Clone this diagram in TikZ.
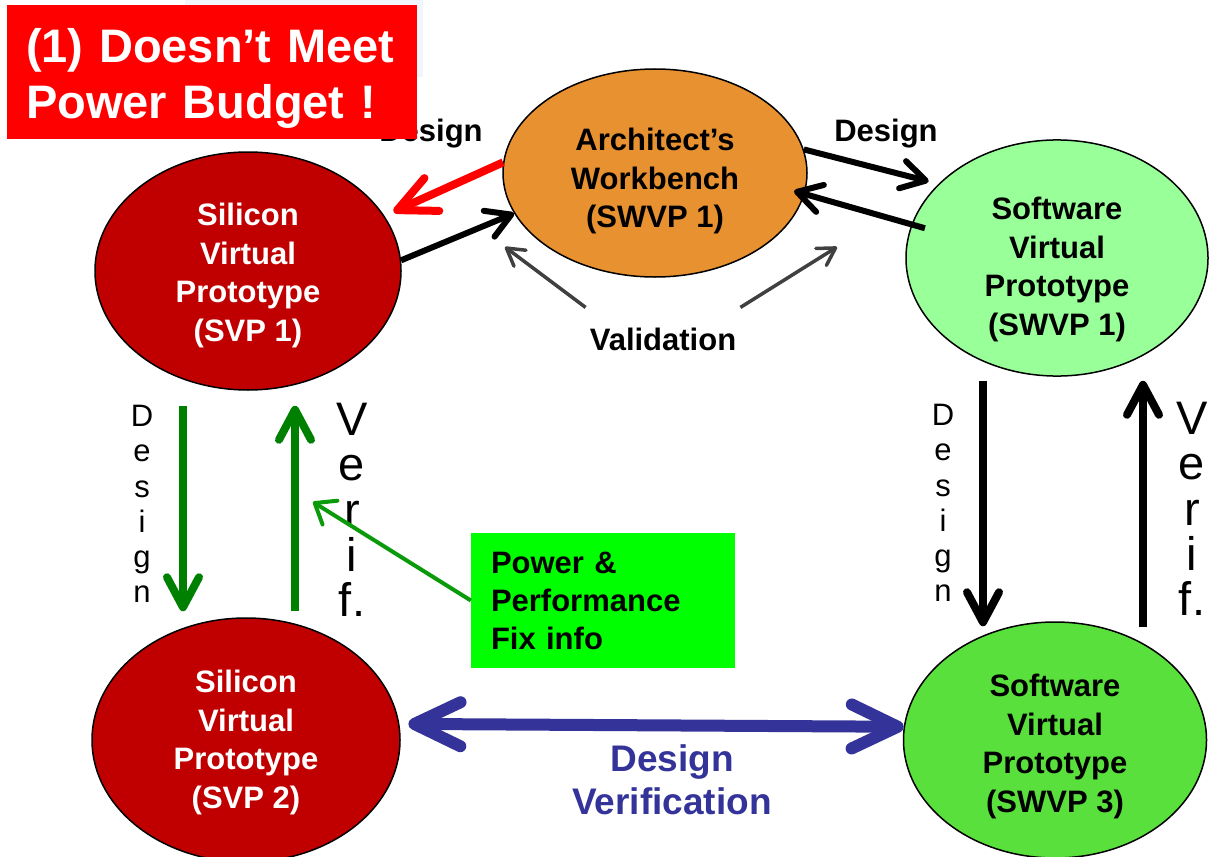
\documentclass[tikz,border=0pt]{standalone}
\usepackage{fontspec}
\setmainfont{Liberation Sans}
\usetikzlibrary{shapes.geometric,arrows.meta}
\definecolor{archorange}{HTML}{E89131}
\definecolor{siliconred}{HTML}{C00000}
\definecolor{softgreen}{HTML}{99FF99}
\definecolor{softgreenB}{HTML}{5AE03C}
\definecolor{fixgreen}{HTML}{00FF00}
\definecolor{budgetred}{HTML}{FF0000}
\definecolor{arrowgreen}{HTML}{008000}
\definecolor{pointgreen}{HTML}{0A9A0A}
\definecolor{dvblue}{HTML}{333399}
\definecolor{valgray}{HTML}{404040}
\definecolor{paleblue}{HTML}{F2F6FA}
% first line strut, pushes a text block down
\newcommand{\lowerby}[1]{\rule{0pt}{#1}}
\begin{document}
\begin{tikzpicture}[x=1pt,y=-1pt,
    proto/.style={ellipse,draw=black,line width=1.5pt,inner sep=0pt,align=center,
        font=\fontsize{31}{38.5}\selectfont\bfseries},
    tag/.style={font=\fontsize{31}{38}\selectfont\bfseries},
    updown/.style={line width=8pt,-{Straight Barb[round,length=30pt,width=32pt]}},
    toparrow/.style={line width=6pt,-{Straight Barb[round,length=24pt,width=28pt]}},
    redarrow/.style={draw=budgetred,line width=8pt,-{Straight Barb[round,length=38pt,width=36pt]}},
    dvarrow/.style={draw=dvblue,line width=12pt,{Straight Barb[round,length=46pt,width=44pt]}-{Straight Barb[round,length=46pt,width=44pt]}},
    valarrow/.style={draw=valgray,line width=3.5pt,-{Straight Barb[round,length=17pt,width=20pt]}},
    fixarrow/.style={draw=pointgreen,line width=4pt,-{Straight Barb[round,length=18pt,width=28pt]}}]
    \useasboundingbox (0,0) rectangle (1209,856);
    \clip (0,0) rectangle (1209,856);
    \fill[paleblue] (185,0) rectangle (423,77);
    % prototypes
    \node[proto,fill=archorange,minimum width=304pt,minimum height=208pt] (arch) at (655,173) {\lowerby{39pt}Architect’s\\Workbench\\(SWVP 1)};
    \node[proto,fill=siliconred,text=white,minimum width=306pt,minimum height=238pt] (svpA) at (248,271) {\lowerby{31pt}Silicon\\Virtual\\Prototype\\(SVP 1)};
    \node[proto,fill=siliconred,text=white,minimum width=308pt,minimum height=244pt] (svpB) at (246,740) {\lowerby{27pt}Silicon\\Virtual\\Prototype\\(SVP 2)};
    \node[proto,fill=softgreen,minimum width=302pt,minimum height=228pt] (swA) at (1057,258) {\lowerby{45pt}Software\\Virtual\\Prototype\\(SWVP 1)};
    \node[proto,fill=softgreenB,minimum width=303pt,minimum height=236pt] (swB) at (1055,740) {\lowerby{35pt}Software\\Virtual\\Prototype\\(SWVP 3)};
    % labels
    \node[tag] (designL) at (431,134) {Design};
    \node[tag] (designR) at (886,134) {Design};
    \node[tag,inner xsep=4pt,inner ysep=20pt] (valid) at (663,339) {Validation};
    \node[fill=fixgreen,minimum width=264pt,minimum height=135pt,text width=224pt,inner xsep=20pt,align=left,
        font=\fontsize{31}{38}\selectfont\bfseries] (fix) at (603,600.5) {Power \&\\Performance\\Fix info};
    \node[text=dvblue,align=center,font=\fontsize{37}{43}\selectfont\bfseries] (dv) at (672,780) {Design\\Verification};
    \node[align=center,inner sep=0pt,font=\fontsize{31}{35.2}\selectfont] (dsgL) at (142,504) {D\\e\\s\\i\\g\\n};
    \node[align=center,inner sep=0pt,font=\fontsize{47}{45.2}\selectfont] (verL) at (352,510) {V\\e\\r\\i\\f.};
    \node[align=center,inner sep=0pt,font=\fontsize{31}{35.2}\selectfont] (dsgR) at (943,503) {D\\e\\s\\i\\g\\n};
    \node[align=center,inner sep=0pt,font=\fontsize{47}{45.2}\selectfont] (verR) at (1192,509) {V\\e\\r\\i\\f.};
    % arrows
    \draw[redarrow,shorten >=10pt] (arch.176) -- (svpA.22);
    \draw[toparrow] (svpA.4) -- (arch.196);
    \draw[toparrow,shorten >=10pt] (arch.9) -- (swA.148);
    \draw[toparrow,shorten <=-14pt,shorten >=-11pt] (swA.167) -- (arch.352);
    \coordinate (valL) at (505,247);
    \coordinate (valR) at (837,247);
    \draw[valarrow] (valid.north west) -- (valL);
    \draw[valarrow] (valid.north east) -- (valR);
    \draw[updown,draw=arrowgreen,shorten <=15pt,shorten >=6pt] ([xshift=-65pt]svpA.south) -- ([xshift=-63pt]svpB.north);
    \draw[updown,draw=arrowgreen,shorten <=6pt,shorten >=15pt] ([xshift=49pt]svpB.north) -- ([xshift=47pt]svpA.south);
    \draw[updown,shorten <=4pt,shorten >=-5pt] ([xshift=-74pt]swA.south) -- ([xshift=-72pt]swB.north);
    \draw[updown,shorten <=-6pt,shorten >=4pt] ([xshift=88pt]swB.north) -- ([xshift=86pt]swA.south);
    \coordinate (fixtip) at (313,502);
    \draw[fixarrow] (fix.west) -- (fixtip);
    \draw[dvarrow,shorten <=9pt] (svpB.6) -- (swB.175);
    % warning box
    \node[fill=budgetred,text=white,minimum width=410pt,minimum height=134pt,text width=372pt,inner xsep=19pt,align=left,
        font=\fontsize{47}{56}\selectfont\bfseries] (budget) at (212,72) {\lowerby{47pt}(1)~Doesn’t~Meet\\Power Budget !};
\end{tikzpicture}
\end{document}
